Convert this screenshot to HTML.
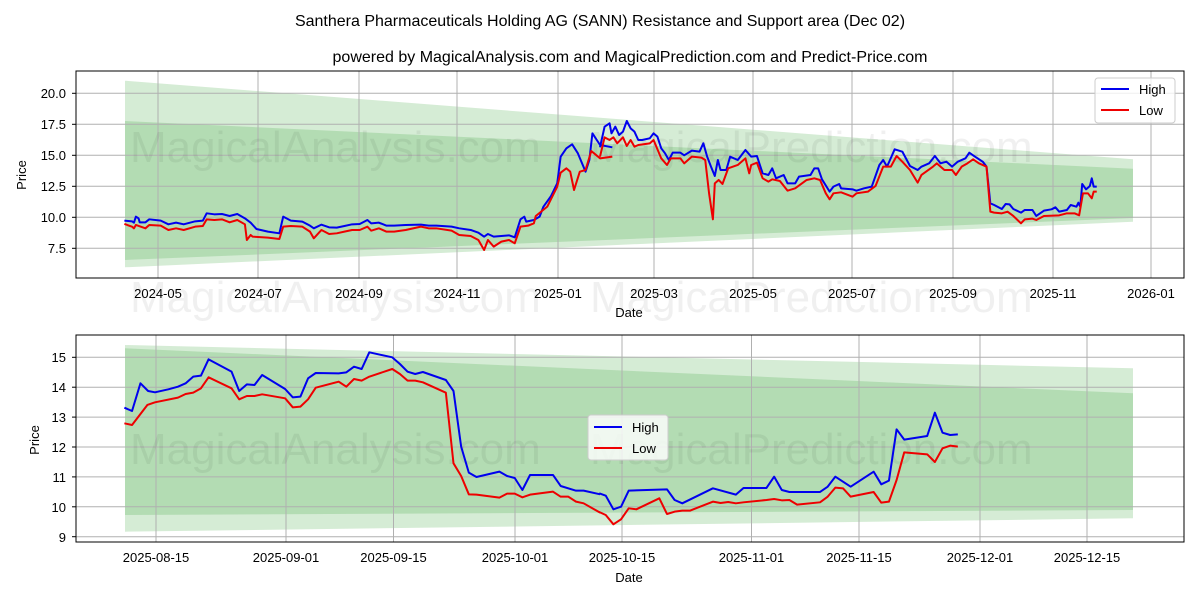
<!DOCTYPE html>
<html><head><meta charset="utf-8"><style>
body{margin:0;background:#fff;}
svg{font-family:"Liberation Sans","DejaVu Sans",sans-serif;}
</style></head><body>
<svg width="1200" height="600" viewBox="0 0 1200 600" xmlns="http://www.w3.org/2000/svg">
<rect width="1200" height="600" fill="#fff"/>
<text x="600" y="26" font-size="16" text-anchor="middle">Santhera Pharmaceuticals Holding AG (SANN) Resistance and Support area (Dec 02)</text>
<text x="630" y="62" font-size="16" text-anchor="middle">powered by MagicalAnalysis.com and MagicalPrediction.com and Predict-Price.com</text>

<!-- TOP CHART -->
<g>
<polygon points="125,80.7 1133,159.3 1133,221.7 125,267.3" fill="#2ca02c" fill-opacity="0.2"/>
<polygon points="125,121 1133,168.7 1133,218 125,260" fill="#2ca02c" fill-opacity="0.2"/>
<g stroke="#b0b0b0" stroke-width="1">
<line x1="76" x2="1184" y1="93.3" y2="93.3"/><line x1="76" x2="1184" y1="124.3" y2="124.3"/><line x1="76" x2="1184" y1="155.3" y2="155.3"/><line x1="76" x2="1184" y1="186.3" y2="186.3"/><line x1="76" x2="1184" y1="217.3" y2="217.3"/><line x1="76" x2="1184" y1="248.3" y2="248.3"/>
<line y1="71" y2="278" x1="158" x2="158"/><line y1="71" y2="278" x1="258" x2="258"/><line y1="71" y2="278" x1="359" x2="359"/><line y1="71" y2="278" x1="457" x2="457"/><line y1="71" y2="278" x1="558" x2="558"/><line y1="71" y2="278" x1="654" x2="654"/><line y1="71" y2="278" x1="753" x2="753"/><line y1="71" y2="278" x1="852" x2="852"/><line y1="71" y2="278" x1="953" x2="953"/><line y1="71" y2="278" x1="1053" x2="1053"/><line y1="71" y2="278" x1="1151" x2="1151"/>
</g>
<text x="130" y="162" font-size="44" fill="#000" fill-opacity="0.06">MagicalAnalysis.com</text>
<text x="590" y="162" font-size="44" fill="#000" fill-opacity="0.06">MagicalPrediction.com</text>
<text x="130" y="312" font-size="44" fill="#000" fill-opacity="0.06">MagicalAnalysis.com</text>
<text x="590" y="312" font-size="44" fill="#000" fill-opacity="0.06">MagicalPrediction.com</text>
<g transform="translate(0,60) scale(0.3827,0.3333)" fill="none" stroke-width="2" stroke-linejoin="round">
<polyline vector-effect="non-scaling-stroke" stroke="#0000ee" points="325,482 345,484 350,488 355,470 362,475 365,487 380,487 390,478 420,482 440,493 460,488 480,493 510,484 530,482 540,460 560,463 580,462 600,468 620,462 640,475 655,488 670,507 700,515 730,520 740,470 760,482 790,485 810,497 820,505 840,494 860,502 880,503 900,498 920,493 940,492 960,480 970,490 990,488 1010,497 1030,497 1060,495 1100,494 1120,497 1140,497 1180,500 1200,505 1230,510 1250,518 1265,530 1275,522 1290,530 1310,528 1330,526 1345,532 1360,478 1370,470 1375,485 1395,480 1410,470 1420,440 1440,408 1456,370 1465,290 1480,265 1495,253 1510,280 1530,335 1540,300 1548,220 1568,255 1600,262"/>
<polyline vector-effect="non-scaling-stroke" stroke="#ee0000" points="325,492 345,500 350,505 355,495 380,505 390,495 420,497 440,510 460,505 480,510 510,500 530,498 540,478 560,480 580,478 600,487 620,480 640,493 645,540 655,525 660,530 700,533 730,537 740,500 760,498 790,500 810,515 820,535 840,510 860,522 880,520 900,515 920,510 940,510 960,500 970,512 990,505 1010,515 1030,515 1060,510 1100,500 1120,505 1140,505 1180,512 1200,525 1230,528 1250,540 1265,570 1275,540 1290,560 1310,545 1330,540 1345,550 1360,500 1380,497 1395,490 1400,468 1430,440 1456,380 1465,338 1480,325 1490,335 1500,390 1515,335 1530,330 1545,273 1568,295 1600,290"/>
</g>
<g transform="translate(600,60) scale(0.3827,0.3333)" fill="none" stroke-width="2" stroke-linejoin="round">
<polyline vector-effect="non-scaling-stroke" stroke="#0000ee" points="0,262 12,200 25,190 30,220 40,200 50,225 60,215 70,183 80,205 90,215 100,240 110,240 130,235 140,220 150,230 160,265 170,280 180,300 190,278 210,278 220,286 240,272 260,275 270,250 280,290 290,320 300,348 308,300 315,330 330,330 340,290 360,300 380,270 395,290 410,288 425,340 440,345 450,325 460,355 480,345 490,370 510,370 520,350 550,345 560,325 570,325 580,358 600,395 610,380 625,372 630,385 660,388 670,392 690,385 710,380 730,315 740,300 750,320 770,268 790,275 810,318 830,330 840,320 860,310 875,288 890,310 905,305 920,320 935,305 955,295 965,278 980,290 1000,305 1010,320 1020,430 1030,435 1050,447 1060,432 1070,433 1080,447 1100,458 1110,450 1130,450 1140,468 1160,452 1180,448 1190,442 1200,455 1220,450 1230,435 1245,440 1250,428 1255,440 1260,372 1270,388 1280,378 1285,355 1290,380 1298,380"/>
<polyline vector-effect="non-scaling-stroke" stroke="#ee0000" points="0,290 12,232 25,240 35,232 45,250 60,232 70,258 80,240 90,260 100,255 130,250 140,240 160,295 175,315 185,295 210,295 220,310 240,290 265,293 275,300 285,400 295,478 300,370 310,360 320,372 335,325 360,315 380,295 390,340 395,315 410,308 425,355 440,365 450,358 470,363 490,392 510,385 540,360 560,355 575,360 590,400 600,418 610,400 630,397 660,410 670,400 700,395 720,378 740,320 760,320 775,288 790,305 810,330 830,368 840,345 870,320 880,310 900,330 920,330 930,345 945,320 960,310 975,298 990,310 1010,320 1020,455 1030,458 1050,460 1065,455 1080,468 1100,490 1110,478 1130,476 1140,480 1160,468 1200,466 1220,460 1240,460 1252,466 1262,400 1275,400 1285,415 1290,395 1298,395"/>
</g>
<rect x="76" y="71" width="1108" height="207" fill="none" stroke="#000" stroke-width="1"/>
<g font-size="13" text-anchor="end">
<text x="66" y="98">20.0</text><text x="66" y="129">17.5</text><text x="66" y="160">15.0</text><text x="66" y="191">12.5</text><text x="66" y="222">10.0</text><text x="66" y="253">7.5</text>
</g>
<g stroke="#000"><line x1="72" x2="76" y1="93.3" y2="93.3"/><line x1="72" x2="76" y1="124.3" y2="124.3"/><line x1="72" x2="76" y1="155.3" y2="155.3"/><line x1="72" x2="76" y1="186.3" y2="186.3"/><line x1="72" x2="76" y1="217.3" y2="217.3"/><line x1="72" x2="76" y1="248.3" y2="248.3"/></g>
<g font-size="13" text-anchor="middle">
<text x="158" y="298">2024-05</text><text x="258" y="298">2024-07</text><text x="359" y="298">2024-09</text><text x="457" y="298">2024-11</text><text x="558" y="298">2025-01</text><text x="654" y="298">2025-03</text><text x="753" y="298">2025-05</text><text x="852" y="298">2025-07</text><text x="953" y="298">2025-09</text><text x="1053" y="298">2025-11</text><text x="1151" y="298">2026-01</text>
<text x="629" y="317">Date</text>
</g>
<text transform="translate(26,175) rotate(-90)" font-size="13" text-anchor="middle">Price</text>
<rect x="1095" y="78" width="80" height="45" rx="3" fill="#fff" fill-opacity="0.8" stroke="#ccc"/>
<line x1="1101" x2="1129" y1="89" y2="89" stroke="#0000ee" stroke-width="2"/>
<line x1="1101" x2="1129" y1="110" y2="110" stroke="#ee0000" stroke-width="2"/>
<text x="1139" y="94" font-size="13">High</text><text x="1139" y="115" font-size="13">Low</text>
</g>

<!-- BOTTOM CHART -->
<g>
<polygon points="125,345 1133,368.3 1133,518.3 125,531.7" fill="#2ca02c" fill-opacity="0.2"/>
<polygon points="125,348.3 1133,393.3 1133,510 125,515" fill="#2ca02c" fill-opacity="0.2"/>
<g stroke="#b0b0b0" stroke-width="1">
<line x1="76" x2="1184" y1="357.3" y2="357.3"/><line x1="76" x2="1184" y1="387.2" y2="387.2"/><line x1="76" x2="1184" y1="417.1" y2="417.1"/><line x1="76" x2="1184" y1="447" y2="447"/><line x1="76" x2="1184" y1="476.9" y2="476.9"/><line x1="76" x2="1184" y1="506.8" y2="506.8"/><line x1="76" x2="1184" y1="536.7" y2="536.7"/>
<line y1="335" y2="542" x1="156" x2="156"/><line y1="335" y2="542" x1="286" x2="286"/><line y1="335" y2="542" x1="393.5" x2="393.5"/><line y1="335" y2="542" x1="515" x2="515"/><line y1="335" y2="542" x1="622" x2="622"/><line y1="335" y2="542" x1="751.5" x2="751.5"/><line y1="335" y2="542" x1="859" x2="859"/><line y1="335" y2="542" x1="980" x2="980"/><line y1="335" y2="542" x1="1087" x2="1087"/>
</g>
<text x="130" y="464" font-size="44" fill="#000" fill-opacity="0.06">MagicalAnalysis.com</text>
<text x="590" y="464" font-size="44" fill="#000" fill-opacity="0.06">MagicalPrediction.com</text>
<g transform="translate(0,330) scale(0.3827,0.3333)" fill="none" stroke-width="2" stroke-linejoin="round">
<polyline vector-effect="non-scaling-stroke" stroke="#0000ee" points="325,233 345,243 367,160 387,183 405,187 440,178 465,170 485,160 505,140 525,137 545,88 605,125 625,183 645,163 665,165 685,135 745,177 765,202 785,200 805,145 825,129 885,130 905,127 925,110 945,117 965,67 1025,82 1045,102 1065,125 1085,132 1105,126 1165,150 1185,183 1205,350 1225,428 1245,441 1305,425 1325,438 1345,444 1365,480 1385,435 1445,435 1465,468 1505,482 1525,482 1568,493"/>
<polyline vector-effect="non-scaling-stroke" stroke="#ee0000" points="325,280 345,285 365,255 385,225 405,217 465,203 485,192 505,188 525,175 545,142 605,175 625,208 645,198 665,198 685,193 745,205 765,232 785,230 805,208 825,173 885,155 905,170 925,147 945,152 965,140 1025,117 1045,132 1065,152 1085,152 1105,157 1165,188 1185,400 1205,438 1225,493 1245,494 1305,503 1325,491 1345,491 1365,502 1385,494 1445,485 1465,500 1485,500 1505,515 1525,520 1568,548"/>
</g>
<g transform="translate(600,330) scale(0.3827,0.3333)" fill="none" stroke-width="2" stroke-linejoin="round">
<polyline vector-effect="non-scaling-stroke" stroke="#0000ee" points="-2,490 15,497 35,538 55,530 75,482 175,478 195,510 215,520 295,475 355,494 375,474 435,474 455,440 475,480 495,486 575,486 595,470 615,440 655,470 715,425 735,463 755,452 775,298 795,329 855,318 875,248 895,308 915,315 935,313"/>
<polyline vector-effect="non-scaling-stroke" stroke="#ee0000" points="-2,546 15,555 35,583 55,568 75,535 95,538 155,505 175,552 195,545 215,542 235,542 295,515 315,519 335,516 355,520 375,517 435,510 455,507 475,511 495,510 515,524 575,517 595,500 615,473 635,475 655,500 715,486 735,518 755,515 775,450 795,367 855,373 875,396 895,355 915,347 935,350"/>
</g>
<rect x="76" y="335" width="1108" height="207" fill="none" stroke="#000" stroke-width="1"/>
<g font-size="13" text-anchor="end">
<text x="66" y="362">15</text><text x="66" y="392">14</text><text x="66" y="422">13</text><text x="66" y="452">12</text><text x="66" y="482">11</text><text x="66" y="512">10</text><text x="66" y="542">9</text>
</g>
<g stroke="#000"><line x1="72" x2="76" y1="357.3" y2="357.3"/><line x1="72" x2="76" y1="387.2" y2="387.2"/><line x1="72" x2="76" y1="417.1" y2="417.1"/><line x1="72" x2="76" y1="447" y2="447"/><line x1="72" x2="76" y1="476.9" y2="476.9"/><line x1="72" x2="76" y1="506.8" y2="506.8"/><line x1="72" x2="76" y1="536.7" y2="536.7"/></g>
<g font-size="13" text-anchor="middle">
<text x="156" y="562">2025-08-15</text><text x="286" y="562">2025-09-01</text><text x="393.5" y="562">2025-09-15</text><text x="515" y="562">2025-10-01</text><text x="622" y="562">2025-10-15</text><text x="751.5" y="562">2025-11-01</text><text x="859" y="562">2025-11-15</text><text x="980" y="562">2025-12-01</text><text x="1087" y="562">2025-12-15</text>
<text x="629" y="582">Date</text>
</g>
<text transform="translate(39,440) rotate(-90)" font-size="13" text-anchor="middle">Price</text>
<rect x="588" y="415" width="80" height="45" rx="3" fill="#fff" fill-opacity="0.8" stroke="#ccc"/>
<line x1="594" x2="622" y1="427" y2="427" stroke="#0000ee" stroke-width="2"/>
<line x1="594" x2="622" y1="448" y2="448" stroke="#ee0000" stroke-width="2"/>
<text x="632" y="432" font-size="13">High</text><text x="632" y="453" font-size="13">Low</text>
</g>
</svg>
</body></html>
